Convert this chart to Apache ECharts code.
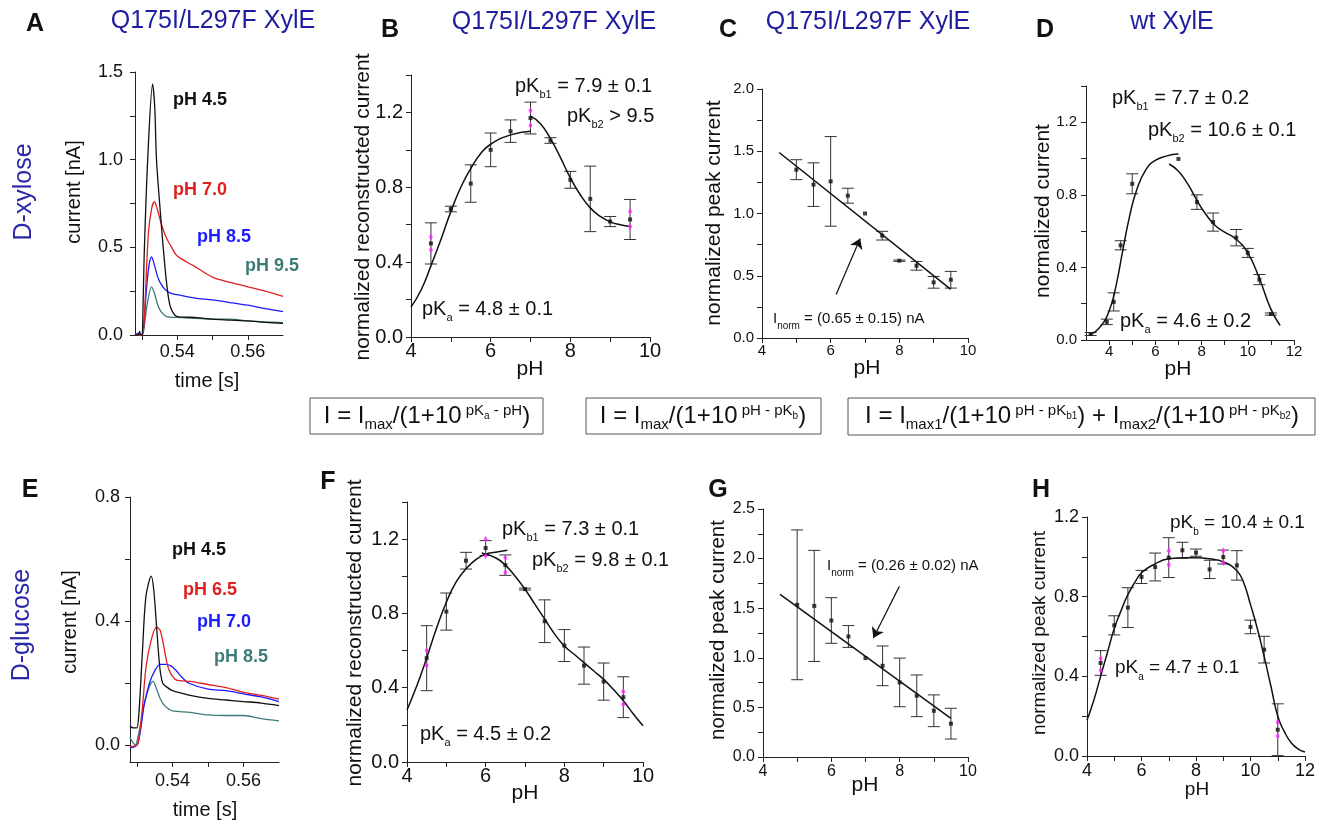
<!DOCTYPE html>
<html><head><meta charset="utf-8">
<script src="https://cdn.jsdelivr.net/npm/echarts@6/dist/echarts.min.js"></script>
<style>html,body{margin:0;padding:0;background:#fff}#c{width:1322px;height:823px}</style>
</head><body><div id="c"></div>
<script>
// ---------------- DATA ----------------
// Panel A (D-xylose traces, Q175I/L297F) [time s, current nA]
const traceA_pH45 = [[0.528,0],[0.529,0],[0.5293,0.02],[0.5296,0],[0.5300,0],[0.5303,0.18],[0.5306,0.45],[0.5316,1.0],[0.5330,1.43],[0.5336,1.30],[0.5341,1.0],[0.5350,0.75],[0.5360,0.5],[0.5370,0.29],[0.5379,0.17],[0.5390,0.12],[0.540,0.105],[0.545,0.10],[0.550,0.09],[0.555,0.085],[0.560,0.08],[0.565,0.072],[0.570,0.066]];
const traceA_pH70 = [[0.528,0],[0.5300,0],[0.5305,0.05],[0.5310,0.25],[0.5318,0.58],[0.5327,0.72],[0.5335,0.76],[0.5343,0.72],[0.5351,0.66],[0.5360,0.60],[0.5370,0.55],[0.5384,0.50],[0.540,0.45],[0.545,0.39],[0.550,0.33],[0.555,0.30],[0.560,0.275],[0.565,0.25],[0.570,0.22]];
const traceA_pH85 = [[0.528,0],[0.529,0.01],[0.5300,0],[0.5305,0.05],[0.5312,0.25],[0.5320,0.40],[0.5327,0.445],[0.5335,0.40],[0.5343,0.34],[0.5351,0.30],[0.5365,0.26],[0.5379,0.24],[0.540,0.23],[0.545,0.21],[0.550,0.20],[0.555,0.185],[0.5565,0.18],[0.560,0.17],[0.565,0.15],[0.570,0.133]];
const traceA_pH95 = [[0.528,0],[0.5300,0],[0.5306,0.05],[0.5315,0.18],[0.5327,0.275],[0.5335,0.24],[0.5345,0.17],[0.5355,0.13],[0.5370,0.105],[0.540,0.10],[0.545,0.095],[0.550,0.09],[0.555,0.09],[0.560,0.08],[0.565,0.075],[0.570,0.07]];
// Panel E (D-glucose traces)
const traceE_pH45 = [[0.528,0.06],[0.529,0.055],[0.5299,0.055],[0.5305,0.1],[0.5315,0.3],[0.5325,0.48],[0.5340,0.545],[0.5347,0.50],[0.5355,0.38],[0.5364,0.25],[0.5372,0.20],[0.5380,0.19],[0.540,0.175],[0.545,0.16],[0.550,0.15],[0.555,0.145],[0.560,0.14],[0.565,0.135],[0.570,0.127]];
const traceE_pH65 = [[0.528,-0.005],[0.5300,0],[0.5305,0.02],[0.5315,0.12],[0.5325,0.25],[0.5340,0.34],[0.5355,0.38],[0.5365,0.37],[0.5375,0.32],[0.5385,0.26],[0.5395,0.23],[0.5410,0.21],[0.545,0.205],[0.550,0.195],[0.555,0.185],[0.560,0.17],[0.565,0.16],[0.570,0.148]];
const traceE_pH70 = [[0.528,-0.01],[0.5300,0],[0.5310,0.05],[0.5320,0.13],[0.5335,0.2],[0.5350,0.24],[0.5365,0.26],[0.5380,0.26],[0.5395,0.255],[0.5410,0.24],[0.5425,0.22],[0.5445,0.20],[0.550,0.18],[0.555,0.175],[0.560,0.165],[0.565,0.155],[0.570,0.14]];
const traceE_pH85 = [[0.528,0.025],[0.5287,0.01],[0.5295,0],[0.5305,0.04],[0.5320,0.13],[0.5335,0.19],[0.5345,0.205],[0.5355,0.18],[0.5365,0.15],[0.5375,0.13],[0.5390,0.115],[0.540,0.11],[0.545,0.105],[0.550,0.097],[0.555,0.095],[0.560,0.095],[0.565,0.085],[0.570,0.078]];

// Panel B
const phB  = [4.5,5,5.5,6,6.5,7,7.5,8,8.5,9,9.5];
const valB = [0.50,0.684,0.82,1.0,1.10,1.17,1.05,0.84,0.738,0.617,0.628];
const errB = [0.11,0.015,0.10,0.09,0.06,0.085,0.015,0.045,0.175,0.027,0.107];
const magB = [[4.5,0.535],[4.5,0.465],[7,1.21],[7,1.13],[9.5,0.67],[9.5,0.59]];
const fitB1 = [[4,0.16],[4.25,0.25],[4.5,0.38],[4.75,0.52],[5,0.67],[5.25,0.80],[5.5,0.90],[5.75,0.98],[6,1.03],[6.5,1.08],[7,1.10]];
const fitB2 = [[7,1.18],[7.25,1.14],[7.5,1.06],[7.75,0.96],[8,0.85],[8.25,0.76],[8.5,0.69],[8.75,0.645],[9,0.615],[9.25,0.60],[9.5,0.59]];
// Panel C
const phC  = [5,5.5,6,6.5,7,7.5,8,8.5,9,9.5];
const valC = [1.352,1.232,1.258,1.143,1.0,0.822,0.621,0.58,0.447,0.468];
const errC = [0.08,0.175,0.36,0.06,0,0.035,0.005,0.035,0.047,0.067];
const fitC = [[4.5,1.49],[9.5,0.39]];
const arrowC = [[6.16,0.35],[6.86,0.80]];
// Panel D
const phD  = [3.2,3.9,4.2,4.5,5.0,7.0,7.8,8.5,9.5,10.0,10.5,11.0];
const valD = [0.033,0.10,0.21,0.522,0.861,0.998,0.76,0.65,0.564,0.48,0.333,0.143];
const errD = [0.008,0.015,0.05,0.025,0.055,0,0.04,0.05,0.045,0.025,0.028,0.006];
const fitD1 = [[3.2,0.03],[3.6,0.07],[4.0,0.16],[4.3,0.30],[4.6,0.50],[4.9,0.69],[5.2,0.83],[5.6,0.94],[6.0,0.99],[6.5,1.015],[7.0,1.025]];
const fitD2 = [[6.6,0.97],[7.0,0.93],[7.4,0.86],[7.8,0.77],[8.2,0.69],[8.6,0.63],[9.0,0.595],[9.5,0.555],[10.0,0.48],[10.5,0.34],[11.0,0.17],[11.4,0.08]];
// Panel F
const phF  = [4.5,5,5.5,6,6.5,7,7.5,8,8.5,9,9.5];
const valF = [0.559,0.81,1.084,1.152,1.06,0.931,0.758,0.627,0.519,0.433,0.349];
const errF = [0.175,0.10,0.045,0.04,0.055,0.005,0.115,0.086,0.10,0.10,0.11];
const magF = [[4.5,0.60],[4.5,0.52],[6,1.20],[6,1.11],[6.5,1.10],[6.5,1.02],[9.5,0.38],[9.5,0.31]];
const fitF1 = [[4,0.28],[4.25,0.41],[4.5,0.56],[4.75,0.72],[5,0.86],[5.25,0.97],[5.5,1.04],[5.75,1.09],[6,1.12],[6.25,1.13],[6.55,1.14]];
const fitF2 = [[5.9,1.125],[6.25,1.10],[6.5,1.06],[6.75,1.00],[7,0.93],[7.25,0.85],[7.5,0.77],[7.75,0.69],[8,0.625],[8.25,0.58],[8.5,0.535],[8.75,0.49],[9,0.445],[9.25,0.39],[9.5,0.33],[9.75,0.26],[10,0.195]];
// Panel G
const phG  = [5,5.5,6,6.5,7,7.5,8,8.5,9,9.5];
const valG = [1.534,1.523,1.376,1.215,0.997,0.919,0.752,0.617,0.466,0.336];
const errG = [0.755,0.56,0.23,0.11,0,0.20,0.245,0.21,0.16,0.155];
const fitG = [[4.5,1.64],[9.5,0.39]];
const arrowG = [[7.99,1.72],[7.23,1.20]];
// Panel H
const phH  = [4.5,5,5.5,6,6.5,7,7.5,8,8.5,9,9.5,10,10.5,11];
const valH = [0.467,0.656,0.745,0.899,0.949,0.996,1.033,1.021,0.937,0.999,0.957,0.648,0.534,0.132];
const errH = [0.062,0.048,0.10,0.033,0.07,0.10,0.04,0.018,0.046,0.035,0.074,0.034,0.067,0.13];
const magH = [[4.5,0.49],[4.5,0.43],[7,1.03],[7,0.96],[9,1.03],[9,0.97],[11,0.17],[11,0.10]];
const fitH = [[4,0.18],[4.25,0.28],[4.5,0.40],[4.75,0.52],[5,0.64],[5.25,0.73],[5.5,0.81],[5.75,0.87],[6,0.92],[6.5,0.965],[7,0.99],[7.5,0.995],[8,0.996],[8.5,0.99],[9,0.975],[9.5,0.93],[9.75,0.87],[10,0.76],[10.25,0.64],[10.5,0.50],[10.75,0.35],[11,0.20],[11.25,0.12],[11.5,0.065],[11.75,0.035],[12,0.02]];

// Tick labels / tick positions
const ticksTimeLbl = [0.54,0.56], ticksTime = [0.53,0.54,0.55,0.56];
const ticksA_yLbl = [0,0.5,1.0,1.5], ticksA_y = [0,0.25,0.5,0.75,1.0,1.25,1.5];
const ticksE_yLbl = [0,0.4,0.8], ticksE_y = [0,0.2,0.4,0.6,0.8];
const ticksPH10Lbl = [4,6,8,10], ticksPH10 = [4,5,6,7,8,9,10];
const ticksPH12Lbl = [4,6,8,10,12], ticksPH12 = [4,5,6,7,8,9,10,11,12];
const ticks14Lbl = [0,0.4,0.8,1.2], ticks14 = [0,0.2,0.4,0.6,0.8,1.0,1.2,1.4];
const ticks12Lbl = [0,0.4,0.8,1.2], ticks12 = [0,0.2,0.4,0.6,0.8,1.0,1.2];
const ticks20Lbl = [0,0.5,1.0,1.5,2.0], ticks20 = [0,0.25,0.5,0.75,1.0,1.25,1.5,1.75,2.0];
const ticks25Lbl = [0,0.5,1.0,1.5,2.0,2.5], ticks25 = [0,0.25,0.5,0.75,1.0,1.25,1.5,1.75,2.0,2.25,2.5];

// ---------------- CHART ----------------
const FF = '"Liberation Sans", Arial, sans-serif';
const chart = echarts.init(document.getElementById('c'), null, {renderer:'canvas'});

const grids = [
  {left:135, top:72, width:148, height:263},
  {left:411, top:75, width:239, height:262},
  {left:762, top:89, width:206, height:249},
  {left:1086, top:86, width:208, height:254},
  {left:130, top:497, width:149, height:265},
  {left:407, top:502, width:236, height:260},
  {left:763, top:509, width:205, height:248},
  {left:1087, top:517, width:218, height:239}
];

function ax(gi, min, max, lbl, ticks, fs, margin, dec){
  return {
    type:'value', gridIndex:gi, min:min, max:max,
    axisLine:{show:true, onZero:false, lineStyle:{color:'#222', width:1}},
    axisTick:{show:true, inside:false, length:5, customValues:ticks, lineStyle:{color:'#222'}},
    axisLabel:{show:true, customValues:lbl, fontSize:fs, fontFamily:FF, color:'#111', margin:margin,
      formatter: v => (dec===null ? String(Math.round(v)) : Number(v).toFixed(dec))},
    splitLine:{show:false}, minorTick:{show:false}
  };
}
const xAxes = [
  ax(0, 0.528, 0.57, ticksTimeLbl, ticksTime, 18, 8, 2),
  ax(1, 4, 10, ticksPH10Lbl, ticksPH10, 20, 4, null),
  ax(2, 4, 10, ticksPH10Lbl, ticksPH10, 15, 5, null),
  ax(3, 3, 12, ticksPH12Lbl, ticksPH12, 15, 4, null),
  ax(4, 0.528, 0.57, ticksTimeLbl, ticksTime, 18, 10, 2),
  ax(5, 4, 10, ticksPH10Lbl, ticksPH10, 20, 4, null),
  ax(6, 4, 10, ticksPH10Lbl, ticksPH10, 16, 7, null),
  ax(7, 4, 12, ticksPH12Lbl, ticksPH12, 18, 6, null)
];
const yAxes = [
  ax(0, 0, 1.5, ticksA_yLbl, ticksA_y, 18, 12, 1),
  ax(1, 0, 1.4, ticks14Lbl, ticks14, 20, 8, 1),
  ax(2, 0, 2.0, ticks20Lbl, ticks20, 15, 8, 1),
  ax(3, 0, 1.4, ticks14Lbl, ticks14, 15, 9, 1),
  ax(4, -0.055, 0.8, ticksE_yLbl, ticksE_y, 18, 10, 1),
  ax(5, 0, 1.4, ticks14Lbl, ticks14, 20, 8, 1),
  ax(6, 0, 2.5, ticks25Lbl, ticks25, 16, 8, 1),
  ax(7, 0, 1.2, ticks12Lbl, ticks12, 18, 8, 1)
];

const series = [];
function trace(i, data, color){
  series.push({type:'line', xAxisIndex:i, yAxisIndex:i, data:data, showSymbol:false, smooth:0.3,
    lineStyle:{color:color, width:1.3}, silent:true});
}
function curve(i, data, extra){
  series.push(Object.assign({type:'line', xAxisIndex:i, yAxisIndex:i, data:data, showSymbol:false, smooth:true,
    lineStyle:{color:'#111', width:1.5}, silent:true, z:4}, extra||{}));
}
function points(i, ph, val, err){
  series.push({type:'custom', xAxisIndex:i, yAxisIndex:i, silent:true, z:3,
    data: ph.map((p,k)=>[p, val[k]-err[k], val[k]+err[k]]),
    encode:{x:0, y:[1,2]},
    renderItem:(params, api)=>{
      const x = api.value(0);
      const lo = api.coord([x, api.value(1)]), hi = api.coord([x, api.value(2)]);
      const w = 6;
      const st = {stroke:'#333', lineWidth:1};
      if (Math.abs(lo[1]-hi[1]) < 1) return {type:'group', children:[]};
      return {type:'group', children:[
        {type:'line', shape:{x1:lo[0], y1:lo[1], x2:hi[0], y2:hi[1]}, style:st},
        {type:'line', shape:{x1:lo[0]-w, y1:lo[1], x2:lo[0]+w, y2:lo[1]}, style:st},
        {type:'line', shape:{x1:hi[0]-w, y1:hi[1], x2:hi[0]+w, y2:hi[1]}, style:st}
      ]};
    }});
  series.push({type:'scatter', xAxisIndex:i, yAxisIndex:i, silent:true, z:5,
    data: ph.map((p,k)=>[p, val[k]]), symbol:'rect', symbolSize:4, itemStyle:{color:'#111'}});
}
function magenta(i, data){
  series.push({type:'scatter', xAxisIndex:i, yAxisIndex:i, silent:true, z:6,
    data:data, symbol:'diamond', symbolSize:[4,7], itemStyle:{color:'#ff22ff'}});
}
function arrow(i, data){
  series.push({type:'line', xAxisIndex:i, yAxisIndex:i, data:[], silent:true,
    markLine:{silent:true, symbol:['none','arrow'], symbolSize:10, animation:false,
      lineStyle:{color:'#111', width:1.2, type:'solid'}, label:{show:false},
      data:[[{coord:data[0]},{coord:data[1]}]]}});
}

const RED='#e0201e', BLUE='#1c1cff', TEAL='#3d7b77', BLK='#111111';
// A
trace(0, traceA_pH95, TEAL); trace(0, traceA_pH85, BLUE); trace(0, traceA_pH70, RED); trace(0, traceA_pH45, BLK);
// E
trace(4, traceE_pH85, TEAL); trace(4, traceE_pH70, BLUE); trace(4, traceE_pH65, RED); trace(4, traceE_pH45, BLK);
// B
curve(1, fitB1); curve(1, fitB2); points(1, phB, valB, errB); magenta(1, magB);
// C
curve(2, fitC, {smooth:false}); points(2, phC, valC, errC); arrow(2, arrowC);
// D
curve(3, fitD1); curve(3, fitD2); points(3, phD, valD, errD);
// F
curve(5, fitF1); curve(5, fitF2); points(5, phF, valF, errF); magenta(5, magF);
// G
curve(6, fitG, {smooth:false}); points(6, phG, valG, errG); arrow(6, arrowG);
// H
curve(7, fitH); points(7, phH, valH, errH); magenta(7, magH);

// ---------------- TEXT ----------------
const graphics = [];
function txt(x, y, s, o){
  o = o||{};
  const st = {text:s, fontSize:o.fs||20, fontFamily:FF, fontWeight:o.fw||'normal', fill:o.color||'#111',
    align:o.align||'center', verticalAlign:'middle', textAlign:o.align||'center', textVerticalAlign:'middle'};
  if (o.rich) st.rich = o.rich;
  graphics.push({type:'text', x:x, y:y, rotation:o.rot||0, style:st, silent:true, z:10});
}
function pk(x, y, sub, rest, fs, ratio){
  const sf = Math.round(fs*(ratio||0.55));
  const rich = {
    m:{fontSize:fs, fontFamily:FF, fill:'#111', lineHeight:fs+9, verticalAlign:'middle'},
    s:{fontSize:sf, fontFamily:FF, fill:'#111', lineHeight:sf, verticalAlign:'bottom'}
  };
  txt(x, y, `{m|${sub[0]}}{s|${sub[1]}}{m|${rest}}`, {align:'left', rich:rich});
}
// panel letters
[['A',35,24],['B',390,30],['C',728,30],['D',1045,30],['E',30,490],['F',328,482],['G',718,490],['H',1041,490]]
  .forEach(a => txt(a[1], a[2], a[0], {fs:25, fw:'bold'}));
// titles
const NAVY = '#1d1d9e';
txt(213, 21, 'Q175I/L297F XylE', {fs:25, color:NAVY});
txt(554, 22, 'Q175I/L297F XylE', {fs:25, color:NAVY});
txt(868, 22, 'Q175I/L297F XylE', {fs:25, color:NAVY});
txt(1172, 22, 'wt XylE', {fs:25, color:NAVY});
txt(24, 192, 'D-xylose', {fs:25, color:'#2a2aa8', rot:Math.PI/2});
txt(22, 625, 'D-glucose', {fs:25, color:'#2a2aa8', rot:Math.PI/2});
// axis titles
txt(74, 192, 'current [nA]', {fs:20, rot:Math.PI/2});
txt(70, 622, 'current [nA]', {fs:20, rot:Math.PI/2});
txt(207, 381, 'time [s]', {fs:20});
txt(205, 810, 'time [s]', {fs:20});
txt(363, 207, 'normalized reconstructed current', {fs:21, rot:Math.PI/2});
txt(355, 633, 'normalized reconstructed current', {fs:21, rot:Math.PI/2});
txt(714, 213, 'normalized peak current', {fs:21, rot:Math.PI/2});
txt(718, 630, 'normalized peak current', {fs:20.5, rot:Math.PI/2});
txt(1043, 211, 'normalized current', {fs:21, rot:Math.PI/2});
txt(1040, 633, 'normalized peak current', {fs:19, rot:Math.PI/2});
txt(530, 369, 'pH', {fs:21});
txt(867, 368, 'pH', {fs:21});
txt(1178, 369, 'pH', {fs:21});
txt(525, 793, 'pH', {fs:21});
txt(865, 785, 'pH', {fs:21});
txt(1197, 790, 'pH', {fs:19});
// trace labels
txt(173, 100, 'pH 4.5', {fs:18, fw:'bold', color:BLK, align:'left'});
txt(173, 190, 'pH 7.0', {fs:18, fw:'bold', color:RED, align:'left'});
txt(197, 237, 'pH 8.5', {fs:18, fw:'bold', color:BLUE, align:'left'});
txt(245, 266, 'pH 9.5', {fs:18, fw:'bold', color:TEAL, align:'left'});
txt(172, 550, 'pH 4.5', {fs:18, fw:'bold', color:BLK, align:'left'});
txt(183, 590, 'pH 6.5', {fs:18, fw:'bold', color:RED, align:'left'});
txt(197, 622, 'pH 7.0', {fs:18, fw:'bold', color:BLUE, align:'left'});
txt(214, 657, 'pH 8.5', {fs:18, fw:'bold', color:TEAL, align:'left'});
// pK annotations
pk(515, 86, ['pK','b1'], ' = 7.9 ± 0.1', 20);
pk(567, 116, ['pK','b2'], ' > 9.5', 20);
pk(422, 309, ['pK','a'], ' = 4.8 ± 0.1', 20);
pk(1112, 98, ['pK','b1'], ' = 7.7 ± 0.2', 20);
pk(1148, 130, ['pK','b2'], ' = 10.6 ± 0.1', 20);
pk(1120, 321, ['pK','a'], ' = 4.6 ± 0.2', 20);
pk(502, 529, ['pK','b1'], ' = 7.3 ± 0.1', 20);
pk(532, 560, ['pK','b2'], ' = 9.8 ± 0.1', 20);
pk(420, 734, ['pK','a'], ' = 4.5 ± 0.2', 20);
pk(1170, 523, ['pK','b'], ' = 10.4 ± 0.1', 19);
pk(1115, 668, ['pK','a'], ' = 4.7 ± 0.1', 19);
pk(773, 319, ['I','norm'], ' = (0.65 ± 0.15) nA', 15, 0.65);
pk(827, 566, ['I','norm'], ' = (0.26 ± 0.02) nA', 15, 0.65);

// formula boxes
const boxes = [[310,398,233,36],[586,398,235,36],[848,398,467,37]];
boxes.forEach(b => graphics.push({type:'rect', shape:{x:b[0], y:b[1], width:b[2], height:b[3]},
  style:{fill:'#fff', stroke:'#555', lineWidth:1}, silent:true, z:8}));
const fRich = {
  m:{fontSize:24, fontFamily:FF, fill:'#111', lineHeight:28, padding:[4,0,0,0], verticalAlign:'top'},
  s:{fontSize:15, fontFamily:FF, fill:'#111', lineHeight:15, padding:[17,0,0,0], verticalAlign:'top'},
  p:{fontSize:15, fontFamily:FF, fill:'#111', lineHeight:15, padding:[3,0,0,0], verticalAlign:'top'},
  q:{fontSize:10, fontFamily:FF, fill:'#111', lineHeight:10, padding:[11,0,0,0], verticalAlign:'top'}
};
txt(427, 414.5, '{m|I = I}{s|max}{m|/(1+10}{p| pK}{q|a}{p| - pH}{m|)}', {rich:fRich});
txt(703, 414.5, '{m|I = I}{s|max}{m|/(1+10}{p| pH - pK}{q|b}{m|)}', {rich:fRich});
txt(1082, 414.5, '{m|I = I}{s|max1}{m|/(1+10}{p| pH - pK}{q|b1}{m|) + I}{s|max2}{m|/(1+10}{p| pH - pK}{q|b2}{m|)}', {rich:fRich});

chart.setOption({
  animation:false,
  backgroundColor:'#ffffff',
  grid: grids.map(g => Object.assign({containLabel:false}, g)),
  xAxis: xAxes, yAxis: yAxes, series: series, graphic: graphics
});
</script></body></html>
